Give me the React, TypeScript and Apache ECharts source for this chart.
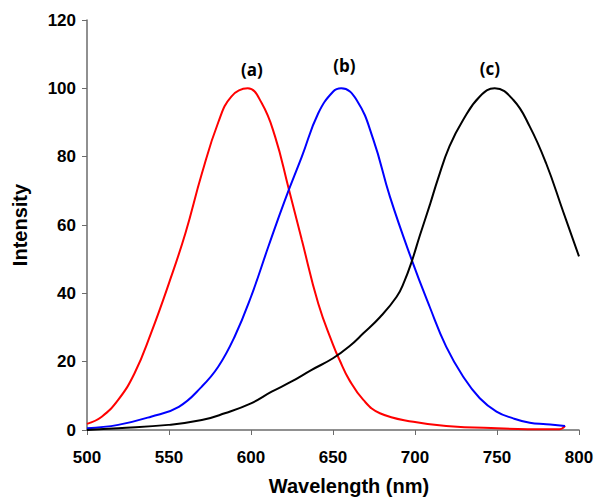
import React, { useEffect, useRef } from "react";
import * as echarts from "echarts";

const seriesA: [number, number][] = [
  [500, 1.8], [509, 3.9], [519, 8.8], [529, 16.6], [539, 28.3], [550, 43],
  [560, 57.6], [570, 75], [580, 90], [588, 97.6], [598, 100], [606.5, 95.7],
  [614.6, 86], [622.8, 71], [631, 55.6], [641, 37], [650, 25], [654, 20.5],
  [660, 14.6], [668.5, 8.8], [678.6, 4.9], [699, 2.4], [719, 1.2], [750, 0.5],
  [780, 0.2], [788, 0.2], [791.5, 1.2],
];
const seriesB: [number, number][] = [
  [500, 0.5], [519, 1.5], [539, 3.9], [556, 6.8], [570, 12.7], [580, 18.5],
  [590, 27.3], [600, 39], [610.6, 53.7], [620.7, 67.3], [631, 80], [641, 92.7],
  [650, 99], [655, 100], [664.4, 96.6], [674.6, 85], [684.7, 68.3], [698, 49.8],
  [709, 36], [719, 24.4], [729.4, 15.6], [739.5, 9.3], [749.7, 5.4], [759.9, 3.4],
  [770, 2.1], [780, 1.7], [791.5, 1.2],
];
const seriesC: [number, number][] = [
  [500, 0], [519, 0.5], [549.6, 1.5], [570, 2.9], [584, 4.9], [600, 7.8],
  [612.6, 11.2], [624.8, 14.2], [637, 17.6], [650, 21], [660, 24.5], [668.5, 28.3],
  [678.6, 33], [688.8, 39], [693.5, 43.5], [698, 49.3], [703, 57], [709, 65.8],
  [714, 73.5], [721, 83], [729.4, 90.8], [739.5, 97.6], [748.6, 100], [760, 96.6],
  [770, 88.8], [780, 78], [790, 64.4], [800, 50.8],
];
const peakLabels = ["(a)", "(b)", "(c)"];
const labelPoints: [number, number][] = [[600.6, 105.4], [657, 106.6], [745.7, 105.7]];

const axisColor = "#6b6b6b";
const font = "'Liberation Sans', Arial, sans-serif";

export default function App() {
  const ref = useRef<HTMLDivElement>(null);
  useEffect(() => {
    if (!ref.current) return;
    const chart = echarts.init(ref.current, undefined, { renderer: "svg" });
    const mk = (name: string, data: [number, number][], color: string) => ({
      name,
      type: "line",
      data,
      smooth: 0.45,
      showSymbol: false,
      symbol: "none",
      lineStyle: { color, width: 2 },
      z: 3,
    });
    chart.setOption({
      animation: false,
      backgroundColor: "#ffffff",
      grid: {
        left: 87,
        right: 20,
        top: 20,
        bottom: 70,
        containLabel: false,
        outerBoundsMode: "none",
      },
      xAxis: {
        type: "value",
        min: 500,
        max: 800,
        interval: 50,
        name: "Wavelength (nm)",
        nameLocation: "middle",
        nameGap: 46,
        nameTextStyle: {
          fontFamily: font,
          fontWeight: "bold",
          fontSize: 20,
          color: "#000",
          padding: [0, 0, 0, 32],
        },
        axisLine: { lineStyle: { color: axisColor, width: 1.5 } },
        axisTick: { inside: false, length: 5, lineStyle: { color: axisColor } },
        axisLabel: { fontFamily: font, fontWeight: "bold", fontSize: 17, color: "#000", margin: 19 },
        splitLine: { show: false },
      },
      yAxis: {
        type: "value",
        min: 0,
        max: 120,
        interval: 20,
        name: "Intensity",
        nameLocation: "middle",
        nameGap: 57,
        nameTextStyle: { fontFamily: font, fontWeight: "bold", fontSize: 20, color: "#000" },
        axisLine: { show: true, lineStyle: { color: axisColor, width: 1.5 } },
        axisTick: { show: true, length: 5, lineStyle: { color: axisColor } },
        axisLabel: { fontFamily: font, fontWeight: "bold", fontSize: 17, color: "#000", margin: 11 },
        splitLine: { show: false },
      },
      series: [
        mk("a", seriesA, "#ff0000"),
        mk("b", seriesB, "#0000ff"),
        mk("c", seriesC, "#000000"),
      ],
    });
    const graphic = peakLabels.map((t, i) => {
      const p = chart.convertToPixel({ gridIndex: 0 }, labelPoints[i]) as number[];
      return {
        type: "text",
        x: p[0],
        y: p[1],
        style: {
          text: t,
          fontFamily: "'Open Sans', 'Liberation Sans', sans-serif",
          fontWeight: "bold",
          fontSize: 17,
          fill: "#000",
          textAlign: "center",
          textVerticalAlign: "middle",
        },
      };
    });
    chart.setOption({ graphic });
    return () => chart.dispose();
  }, []);
  return (
    <div
      ref={ref}
      style={{ position: "fixed", left: 0, top: 0, width: 599, height: 500 }}
    />
  );
}
